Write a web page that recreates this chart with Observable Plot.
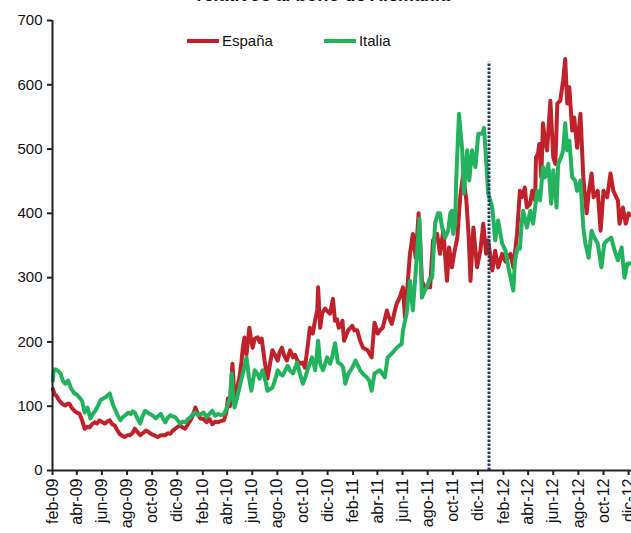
<!DOCTYPE html>
<html>
<head>
<meta charset="utf-8">
<script src="https://cdn.jsdelivr.net/npm/d3@7"></script>
<script src="https://cdn.jsdelivr.net/npm/@observablehq/plot@0.6"></script>
<style>
  html, body { margin: 0; padding: 0; background: #fff; }
  #wrap { position: relative; width: 631px; height: 533px; overflow: hidden; font-family: "Liberation Sans", Arial, sans-serif; }
  #title { position: absolute; top: -15px; left: 0; width: 648px; text-align: center; font-weight: bold; font-style: italic; font-size: 18px; color: #111; white-space: nowrap; }
  #legend { position: absolute; top: 32px; left: 187px; display: flex; align-items: center; font-size: 15px; color: #111; }
  .sw { display: inline-block; width: 32px; height: 4px; margin-right: 3px; }
  .item { display: flex; align-items: center; margin-right: 51px; }
</style>
</head>
<body>
<div id="wrap">
  <div id="title">relativos al bono de Alemania</div>
  <div id="legend"></div>
</div>
<script>
const seriesNames = ["España", "Italia"];
const seriesColors = ["#C0212B", "#23B35F"];
const monthNames = ["ene","feb","mar","abr","may","jun","jul","ago","sep","oct","nov","dic"];
const yTicks = [0, 100, 200, 300, 400, 500, 600, 700];
const xStart = "2009-02-01";
const xEnd = "2012-12-08";
const eventDate = ["2011-12-28"];
const eventTop = [635];

const espana = [
["2009-02-02",127],["2009-02-06",118],["2009-02-10",117],["2009-02-16",110],["2009-02-21",106],["2009-02-26",103],
["2009-03-04",101],["2009-03-09",104],["2009-03-14",104],["2009-03-20",97],["2009-03-26",93],["2009-04-01",90],
["2009-04-08",88],["2009-04-14",78],["2009-04-20",65],["2009-04-27",68],["2009-05-02",67],["2009-05-08",72],
["2009-05-14",75],["2009-05-20",73],["2009-05-26",78],["2009-06-02",75],["2009-06-08",73],["2009-06-14",76],
["2009-06-20",78],["2009-06-26",72],["2009-07-02",70],["2009-07-08",63],["2009-07-14",57],["2009-07-20",54],
["2009-07-26",52],["2009-08-02",55],["2009-08-08",55],["2009-08-14",58],["2009-08-20",65],["2009-08-26",60],
["2009-09-02",55],["2009-09-08",58],["2009-09-16",62],["2009-09-22",60],["2009-09-28",57],["2009-10-05",55],
["2009-10-15",52],["2009-10-22",55],["2009-11-02",55],["2009-11-08",58],["2009-11-14",57],["2009-11-20",62],
["2009-11-26",65],["2009-12-02",68],["2009-12-08",70],["2009-12-14",67],["2009-12-20",65],["2009-12-27",72],
["2010-01-02",78],["2010-01-08",86],["2010-01-14",98],["2010-01-20",88],["2010-01-26",81],["2010-02-03",80],
["2010-02-10",75],["2010-02-17",80],["2010-02-24",72],["2010-03-03",76],["2010-03-10",75],["2010-03-17",77],
["2010-03-24",78],["2010-03-30",90],["2010-04-03",112],["2010-04-08",100],["2010-04-12",145],["2010-04-14",166],
["2010-04-19",110],["2010-04-24",124],["2010-05-01",145],["2010-05-06",170],["2010-05-09",190],["2010-05-13",207],
["2010-05-18",180],["2010-05-25",222],["2010-05-30",200],["2010-06-02",191],["2010-06-07",205],["2010-06-14",207],
["2010-06-19",200],["2010-06-24",205],["2010-07-01",171],["2010-07-08",143],["2010-07-14",165],["2010-07-20",187],
["2010-07-26",180],["2010-08-02",171],["2010-08-07",185],["2010-08-12",191],["2010-08-18",178],["2010-08-24",171],
["2010-09-01",187],["2010-09-08",176],["2010-09-13",180],["2010-09-18",172],["2010-09-25",166],["2010-10-02",168],
["2010-10-07",160],["2010-10-14",195],["2010-10-19",222],["2010-10-26",213],["2010-11-01",235],["2010-11-06",249],
["2010-11-08",285],["2010-11-13",222],["2010-11-18",245],["2010-11-25",252],["2010-11-30",248],["2010-12-07",244],
["2010-12-14",267],["2010-12-19",233],["2010-12-24",235],["2010-12-28",222],["2011-01-03",225],["2011-01-06",233],
["2011-01-10",202],["2011-01-15",210],["2011-01-20",218],["2011-01-30",225],["2011-02-04",218],["2011-02-11",218],
["2011-02-18",202],["2011-02-25",191],["2011-03-08",187],["2011-03-18",176],["2011-03-25",230],["2011-04-02",213],
["2011-04-07",218],["2011-04-14",222],["2011-04-24",249],["2011-04-28",240],["2011-05-06",228],["2011-05-12",245],
["2011-05-18",260],["2011-05-25",269],["2011-06-02",285],["2011-06-07",238],["2011-06-14",295],["2011-06-19",337],
["2011-06-26",368],["2011-07-03",331],["2011-07-10",400],["2011-07-13",370],["2011-07-18",295],["2011-07-25",285],
["2011-07-30",285],["2011-08-07",285],["2011-08-14",358],["2011-08-24",368],["2011-08-31",337],["2011-09-08",373],
["2011-09-17",295],["2011-09-22",347],["2011-09-29",316],["2011-10-05",340],["2011-10-12",362],["2011-10-19",425],
["2011-10-26",460],["2011-11-03",420],["2011-11-09",360],["2011-11-13",295],["2011-11-20",378],["2011-11-29",316],
["2011-12-07",342],["2011-12-14",384],["2011-12-21",337],["2011-12-26",358],["2012-01-05",311],["2012-01-12",342],
["2012-01-19",316],["2012-01-29",337],["2012-02-06",325],["2012-02-11",331],["2012-02-18",337],["2012-02-25",316],
["2012-03-05",368],["2012-03-12",435],["2012-03-17",425],["2012-03-24",440],["2012-03-29",409],["2012-04-06",415],
["2012-04-11",435],["2012-04-18",420],["2012-04-20",487],["2012-04-25",493],["2012-04-28",508],["2012-05-03",456],
["2012-05-07",540],["2012-05-12",513],["2012-05-17",498],["2012-05-25",575],["2012-06-01",487],["2012-06-06",477],
["2012-06-11",571],["2012-06-18",575],["2012-06-25",607],["2012-06-30",640],["2012-07-05",571],["2012-07-10",596],
["2012-07-17",529],["2012-07-22",549],["2012-07-29",502],["2012-08-06",555],["2012-08-13",456],["2012-08-21",400],
["2012-08-26",431],["2012-09-02",462],["2012-09-07",425],["2012-09-17",435],["2012-09-24",373],["2012-10-01",435],
["2012-10-10",425],["2012-10-18",462],["2012-10-25",435],["2012-11-05",420],["2012-11-09",384],["2012-11-17",409],
["2012-11-24",384],["2012-12-01",400],["2012-12-07",397]
];

const italia = [
["2009-02-02",140],["2009-02-04",157],["2009-02-10",157],["2009-02-16",154],["2009-02-21",150],["2009-02-26",140],
["2009-03-04",135],["2009-03-11",140],["2009-03-18",128],["2009-03-26",120],["2009-04-01",118],["2009-04-08",113],
["2009-04-14",108],["2009-04-20",90],["2009-04-27",98],["2009-05-04",81],["2009-05-10",88],["2009-05-16",93],
["2009-05-22",100],["2009-05-28",109],["2009-06-04",112],["2009-06-10",114],["2009-06-15",117],["2009-06-20",120],
["2009-06-27",104],["2009-07-04",93],["2009-07-10",85],["2009-07-16",78],["2009-07-22",83],["2009-07-28",86],
["2009-08-04",90],["2009-08-10",88],["2009-08-15",92],["2009-08-20",90],["2009-08-27",80],["2009-09-02",73],
["2009-09-08",85],["2009-09-14",93],["2009-09-20",90],["2009-09-26",88],["2009-10-03",85],["2009-10-10",81],
["2009-10-16",85],["2009-10-22",88],["2009-10-28",80],["2009-11-02",75],["2009-11-08",82],["2009-11-14",86],
["2009-11-20",84],["2009-11-26",83],["2009-12-02",78],["2009-12-08",73],["2009-12-14",76],["2009-12-20",75],
["2009-12-27",80],["2010-01-02",83],["2010-01-08",88],["2010-01-14",90],["2010-01-20",86],["2010-01-28",88],
["2010-02-03",90],["2010-02-10",83],["2010-02-17",88],["2010-02-24",93],["2010-03-03",85],["2010-03-10",88],
["2010-03-17",86],["2010-03-24",88],["2010-03-30",95],["2010-04-03",104],["2010-04-08",112],["2010-04-12",151],
["2010-04-15",120],["2010-04-19",98],["2010-04-24",110],["2010-05-01",129],["2010-05-09",151],["2010-05-13",160],
["2010-05-18",176],["2010-05-24",145],["2010-05-30",124],["2010-06-07",156],["2010-06-14",150],["2010-06-19",143],
["2010-06-26",156],["2010-07-03",140],["2010-07-08",124],["2010-07-20",129],["2010-07-26",140],["2010-08-02",156],
["2010-08-08",150],["2010-08-14",148],["2010-08-26",163],["2010-09-01",155],["2010-09-08",151],["2010-09-18",168],
["2010-09-25",150],["2010-10-02",135],["2010-10-08",145],["2010-10-14",158],["2010-10-24",176],["2010-11-01",156],
["2010-11-08",202],["2010-11-13",166],["2010-11-20",156],["2010-11-30",176],["2010-12-07",166],["2010-12-12",176],
["2010-12-19",198],["2010-12-26",168],["2011-01-03",165],["2011-01-08",160],["2011-01-13",135],["2011-01-20",150],
["2011-01-30",160],["2011-02-07",171],["2011-02-18",156],["2011-02-25",150],["2011-03-06",145],["2011-03-12",140],
["2011-03-18",124],["2011-03-25",151],["2011-04-07",156],["2011-04-19",145],["2011-04-26",176],["2011-05-06",182],
["2011-05-18",191],["2011-05-30",197],["2011-06-02",218],["2011-06-11",244],["2011-06-19",295],["2011-06-26",249],
["2011-07-05",327],["2011-07-12",392],["2011-07-18",269],["2011-07-25",280],["2011-07-30",285],["2011-08-07",300],
["2011-08-12",300],["2011-08-19",384],["2011-08-26",400],["2011-08-31",400],["2011-09-05",378],["2011-09-12",362],
["2011-09-20",373],["2011-09-25",400],["2011-09-29",404],["2011-10-02",368],["2011-10-07",384],["2011-10-09",446],
["2011-10-16",555],["2011-10-24",498],["2011-10-28",431],["2011-11-05",498],["2011-11-10",451],["2011-11-17",498],
["2011-11-25",472],["2011-12-02",524],["2011-12-12",524],["2011-12-16",533],["2011-12-21",482],["2011-12-26",431],
["2012-01-05",409],["2012-01-12",358],["2012-01-19",389],["2012-01-29",353],["2012-02-06",342],["2012-02-13",316],
["2012-02-25",280],["2012-02-29",327],["2012-03-07",347],["2012-03-12",345],["2012-03-17",390],["2012-03-20",404],
["2012-03-29",378],["2012-04-06",404],["2012-04-13",384],["2012-04-23",435],["2012-04-30",420],["2012-05-07",472],
["2012-05-12",456],["2012-05-20",477],["2012-05-27",415],["2012-06-01",467],["2012-06-09",409],["2012-06-13",477],
["2012-06-20",487],["2012-06-25",498],["2012-06-30",540],["2012-07-05",498],["2012-07-10",513],["2012-07-17",456],
["2012-07-24",451],["2012-07-29",435],["2012-08-06",451],["2012-08-13",378],["2012-08-18",353],["2012-08-26",331],
["2012-09-02",373],["2012-09-09",362],["2012-09-17",353],["2012-09-26",316],["2012-10-03",353],["2012-10-10",358],
["2012-10-20",362],["2012-10-28",342],["2012-11-05",327],["2012-11-14",347],["2012-11-21",300],["2012-11-28",322],
["2012-12-07",322]
];

const toRows = (arr, name) => arr.map(([d, v]) => ({date: new Date(d), value: v, serie: name}));
const rowsES = toRows(espana, seriesNames[0]);
const rowsIT = toRows(italia, seriesNames[1]);
const x0 = new Date(xStart), x1 = new Date(xEnd);
const tickDates = d3.utcMonth.range(x0, x1, 2);
const fmt = d => monthNames[d.getUTCMonth()] + "-" + String(d.getUTCFullYear() % 100).padStart(2, "0");

const chart = Plot.plot({
  width: 631,
  height: 533,
  marginLeft: 52,
  marginRight: 0,
  marginTop: 20,
  marginBottom: 63,
  style: {fontFamily: "Liberation Sans, Arial, sans-serif", fontSize: "14px", color: "#111", background: "white"},
  x: {type: "utc", domain: [x0, x1]},
  y: {domain: [0, 700]},
  marks: [
    Plot.axisX({ticks: tickDates, tickFormat: fmt, tickRotate: -90, tickSize: 5, tickPadding: 3, fontSize: 16, label: null, stroke: "#222", strokeWidth: 2}),
    Plot.axisY({ticks: yTicks, tickSize: 5, tickPadding: 5, fontSize: 15, label: null, stroke: "#222", strokeWidth: 2}),
    Plot.lineY(rowsES, {x: "date", y: "value", stroke: seriesColors[0], strokeWidth: 4, curve: "linear"}),
    Plot.lineY(rowsIT, {x: "date", y: "value", stroke: seriesColors[1], strokeWidth: 4, curve: "linear"}),
    Plot.ruleX(eventDate.map(d => new Date(d)), {y1: 0, y2: eventTop[0], stroke: "#243B63", strokeWidth: 3, strokeDasharray: "2.5,1.5"}),
    Plot.ruleY([0], {stroke: "#222", strokeWidth: 2}),
    Plot.ruleX([x0], {stroke: "#222", strokeWidth: 2})
  ]
});
const wrap = document.getElementById("wrap");
wrap.insertBefore(chart, wrap.firstChild);

const legend = document.getElementById("legend");
seriesNames.forEach((n, i) => {
  const it = document.createElement("div");
  it.className = "item";
  const sw = document.createElement("span");
  sw.className = "sw";
  sw.style.background = seriesColors[i];
  it.appendChild(sw);
  it.appendChild(document.createTextNode(n));
  legend.appendChild(it);
});
</script>
</body>
</html>
